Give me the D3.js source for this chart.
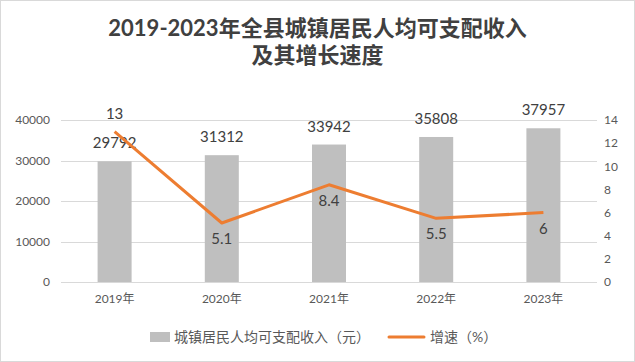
<!DOCTYPE html>
<html>
<head>
<meta charset="utf-8">
<script src="https://cdn.jsdelivr.net/npm/d3@7"></script>
<style>
  body { margin: 0; background: #fff; }
  text { font-family: Lato, "Noto Sans CJK SC", sans-serif; }
</style>
</head>
<body>
<div id="chart"></div>
<script>
// data
const years = ["2019年", "2020年", "2021年", "2022年", "2023年"]
const income = [29792, 31312, 33942, 35808, 37957]
const growth = [13, 5.1, 8.4, 5.5, 6]
const leftTicks = [0, 10000, 20000, 30000, 40000]
const rightTicks = [0, 2, 4, 6, 8, 10, 12, 14]

const width = 635
const height = 362
const margin = {top: 120, right: 38, bottom: 80, left: 61}

const svg = d3.select("#chart").append("svg")
    .attr("width", width)
    .attr("height", height)

// border
svg.append("rect")
    .attr("x", 0.5).attr("y", 0.5)
    .attr("width", width - 1).attr("height", height - 1)
    .attr("fill", "#fff")
    .attr("stroke", "#d9d9d9")

const x = d3.scaleBand()
    .domain(years)
    .range([margin.left, width - margin.right])

const yLeft = d3.scaleLinear()
    .domain([0, 40000])
    .range([height - margin.bottom, margin.top])

const yRight = d3.scaleLinear()
    .domain([0, 14])
    .range([height - margin.bottom, margin.top])

// title
const title = svg.append("text")
    .attr("text-anchor", "middle")
    .attr("fill", "#404040")
    .attr("font-weight", "bold")
    .style("font-size", "22px")
title.append("tspan").attr("x", width / 2).attr("y", 36)
    .text("2019-2023年全县城镇居民人均可支配收入")
title.append("tspan").attr("x", width / 2).attr("y", 63)
    .text("及其增长速度")

// gridlines
svg.append("g")
    .selectAll("line")
    .data(leftTicks)
    .join("line")
    .attr("x1", margin.left)
    .attr("x2", width - margin.right)
    .attr("y1", d => Math.round(yLeft(d)) + 0.5)
    .attr("y2", d => Math.round(yLeft(d)) + 0.5)
    .attr("stroke", "#d9d9d9")

// left axis
const leftAxis = svg.append("g")
    .attr("transform", `translate(${margin.left - 11},0)`)
    .call(d3.axisLeft(yLeft).tickValues(leftTicks).tickFormat(d3.format("d")).tickSize(0).tickPadding(0))
leftAxis.select(".domain").remove()
leftAxis.selectAll("text")
    .attr("fill", "#595959")
    .style("font-size", "12px")

// right axis
const rightAxis = svg.append("g")
    .attr("transform", `translate(${width - margin.right + 7},0)`)
    .call(d3.axisRight(yRight).tickValues(rightTicks).tickSize(0).tickPadding(0))
rightAxis.select(".domain").remove()
rightAxis.selectAll("text")
    .attr("fill", "#595959")
    .style("font-size", "12px")

// x axis
const xAxis = svg.append("g")
    .attr("transform", `translate(0,${height - margin.bottom + 8})`)
    .call(d3.axisBottom(x).tickSize(0).tickPadding(4))
xAxis.select(".domain").remove()
xAxis.selectAll("text")
    .attr("fill", "#595959")
    .style("font-size", "12px")

// bars
const barWidth = 34
svg.append("g")
    .selectAll("rect")
    .data(income)
    .join("rect")
    .attr("x", (d, i) => x(years[i]) + x.bandwidth() / 2 - barWidth / 2)
    .attr("y", d => yLeft(d))
    .attr("width", barWidth)
    .attr("height", d => yLeft(0) - yLeft(d))
    .attr("fill", "#bfbfbf")

svg.append("g")
    .selectAll("text")
    .data(income)
    .join("text")
    .attr("x", (d, i) => x(years[i]) + x.bandwidth() / 2)
    .attr("y", d => yLeft(d) - 13)
    .attr("text-anchor", "middle")
    .attr("fill", "#404040")
    .style("font-size", "15px")
    .text(d => d)

// growth line
const line = d3.line()
    .x((d, i) => x(years[i]) + x.bandwidth() / 2)
    .y(d => yRight(d))

svg.append("path")
    .datum(growth)
    .attr("d", line)
    .attr("fill", "none")
    .attr("stroke", "#ed7d31")
    .attr("stroke-width", 3)
    .attr("stroke-linejoin", "round")

svg.append("g")
    .selectAll("text")
    .data(growth)
    .join("text")
    .attr("x", (d, i) => x(years[i]) + x.bandwidth() / 2)
    .attr("y", (d, i) => i === 0 ? yRight(d) - 13 : yRight(d) + 21)
    .attr("text-anchor", "middle")
    .attr("fill", "#404040")
    .style("font-size", "15px")
    .text(d => d)

// legend
const legend = svg.append("g")
    .attr("transform", "translate(0,337)")
legend.append("rect")
    .attr("x", 150).attr("y", -5)
    .attr("width", 20).attr("height", 10)
    .attr("fill", "#bfbfbf")
legend.append("text")
    .attr("x", 174).attr("y", 5)
    .attr("fill", "#595959")
    .style("font-size", "14px")
    .text("城镇居民人均可支配收入（元）")
legend.append("line")
    .attr("x1", 389).attr("x2", 424)
    .attr("stroke", "#ed7d31")
    .attr("stroke-width", 3)
    .attr("stroke-linecap", "round")
legend.append("text")
    .attr("x", 430).attr("y", 5)
    .attr("fill", "#595959")
    .style("font-size", "14px")
    .text("增速（%）")
</script>
</body>
</html>
